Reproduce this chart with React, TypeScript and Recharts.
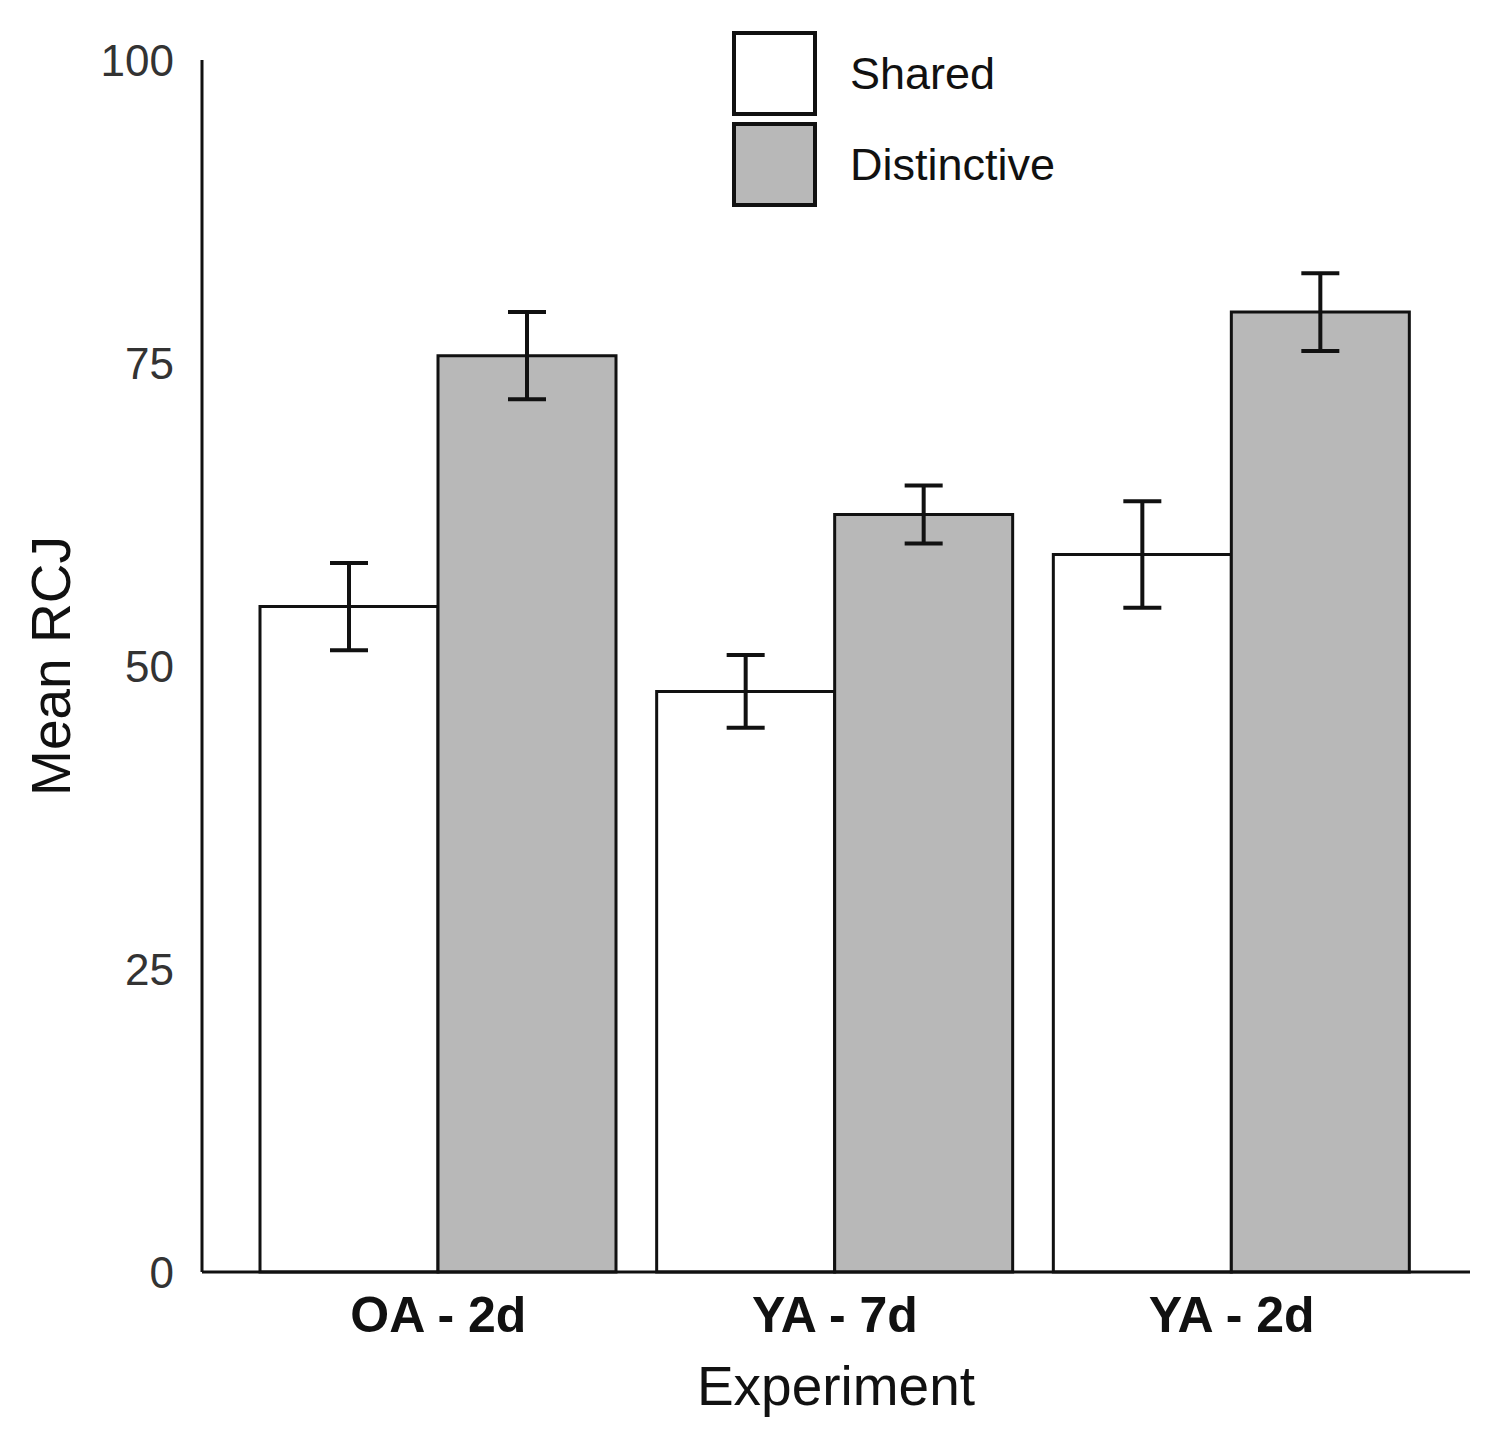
import { BarChart, Bar, XAxis, YAxis, ErrorBar, Legend } from 'recharts';

const experiments = ['OA - 2d', 'YA - 7d', 'YA - 2d'];
const sharedMean = [54.9, 47.9, 59.2];
const sharedErr = [3.6, 3.0, 4.4];
const distinctiveMean = [75.6, 62.5, 79.2];
const distinctiveErr = [3.6, 2.4, 3.2];
const seriesNames = ['Shared', 'Distinctive'];
const yTicks = [0, 25, 50, 75, 100];

const FONT = '"Liberation Sans", Arial, sans-serif';

const data = experiments.map((name, i) => ({
  name,
  shared: sharedMean[i],
  sharedErr: sharedErr[i],
  distinctive: distinctiveMean[i],
  distinctiveErr: distinctiveErr[i],
}));

// eslint-disable-next-line @typescript-eslint/no-explicit-any
function LegendBoxes({ payload }: any) {
  if (!payload) return null;
  const items = [...payload].sort(
    (a: { value: string }, b: { value: string }) => seriesNames.indexOf(a.value) - seriesNames.indexOf(b.value),
  );
  return (
    <div style={{ fontFamily: FONT }}>
      {items.map((entry: { value: string; color: string }) => (
        <div key={entry.value} style={{ display: 'flex', alignItems: 'center', height: 91 }}>
          <div
            style={{
              width: 77,
              height: 77,
              border: '4px solid #111',
              background: entry.color,
              marginRight: 33,
            }}
          />
          <span style={{ fontSize: 45, color: '#111' }}>{entry.value}</span>
        </div>
      ))}
    </div>
  );
}

export default function App() {
  return (
    <div style={{ margin: -8, width: 1500, height: 1438, background: '#fff' }}>
      <BarChart
        width={1500}
        height={1438}
        data={data}
        margin={{ top: 60, right: 30, left: 0, bottom: 70 }}
        barGap={0}
        barCategoryGap={20}
      >
        <XAxis
          dataKey="name"
          padding={{ left: 38, right: 40 }}
          stroke="#111"
          strokeWidth={3}
          tickLine={false}
          tickSize={0}
          tickMargin={24}
          height={96}
          tick={{ fill: '#111', fontSize: 50, fontWeight: 'bold', fontFamily: FONT }}
          label={{
            value: 'Experiment',
            position: 'bottom',
            offset: -2,
            fill: '#111',
            fontSize: 55,
            fontFamily: FONT,
          }}
        />
        <YAxis
          width={202}
          domain={[0, 100]}
          ticks={yTicks}
          stroke="#111"
          strokeWidth={3}
          tickLine={false}
          tickSize={0}
          tickMargin={28}
          tick={{ fill: '#333', fontSize: 44, fontFamily: FONT }}
          label={{
            value: 'Mean RCJ',
            angle: -90,
            position: 'insideLeft',
            offset: 50,
            fill: '#111',
            fontSize: 55,
            fontFamily: FONT,
            style: { textAnchor: 'middle' },
          }}
        />
        <Legend
          layout="horizontal"
          verticalAlign="middle"
          align="center"
          content={<LegendBoxes />}
          wrapperStyle={{ position: 'absolute', top: 28, left: 732, width: 'auto' }}
        />
        <Bar dataKey="shared" name="Shared" fill="#ffffff" stroke="#111" strokeWidth={3} isAnimationActive={false}>
          <ErrorBar dataKey="sharedErr" width={19} stroke="#111" strokeWidth={4} />
        </Bar>
        <Bar dataKey="distinctive" name="Distinctive" fill="#b8b8b8" stroke="#111" strokeWidth={3} isAnimationActive={false}>
          <ErrorBar dataKey="distinctiveErr" width={19} stroke="#111" strokeWidth={4} />
        </Bar>
      </BarChart>
    </div>
  );
}
